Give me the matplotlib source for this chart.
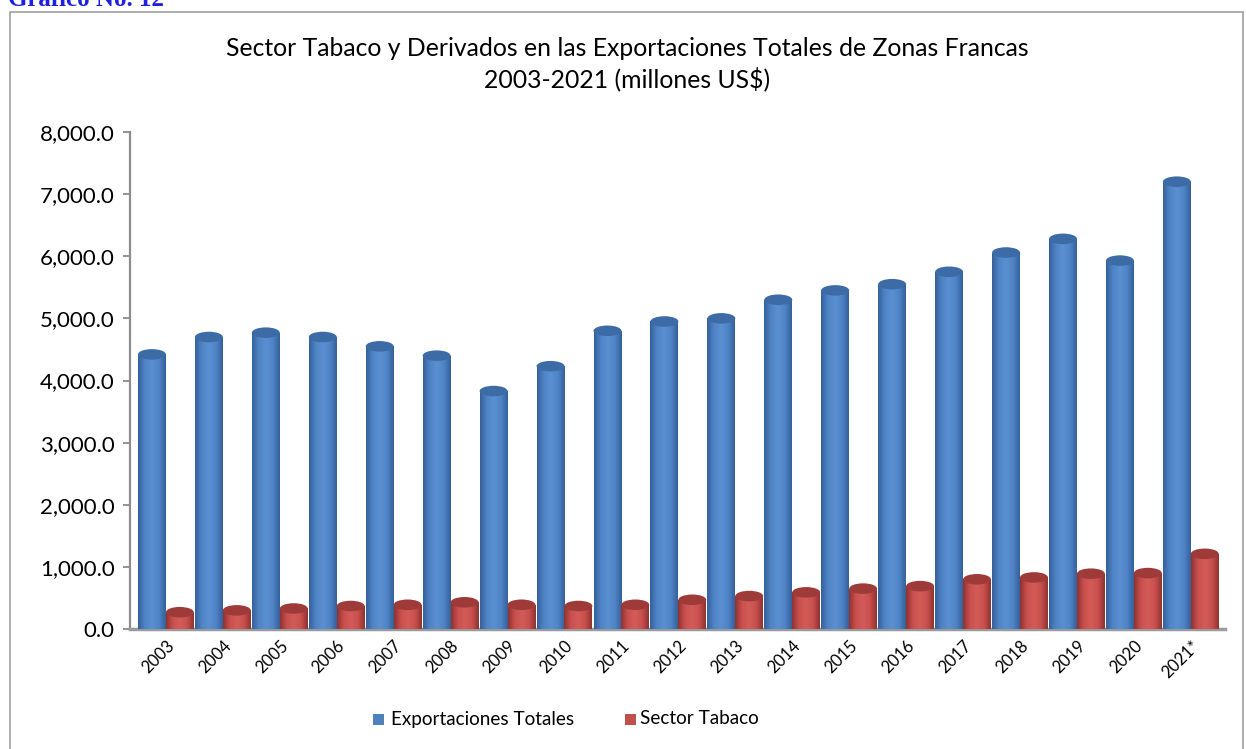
import numpy as np
import matplotlib
matplotlib.use("Agg")
import matplotlib.pyplot as plt
from matplotlib.patches import Ellipse, Rectangle
from matplotlib.colors import LinearSegmentedColormap

years = ["2003", "2004", "2005", "2006", "2007", "2008", "2009", "2010", "2011", "2012",
         "2013", "2014", "2015", "2016", "2017", "2018", "2019", "2020", "2021*"]
exportaciones_totales = [4420, 4700, 4770, 4700, 4550, 4400, 3830, 4230, 4800, 4950,
                         5000, 5300, 5450, 5550, 5750, 6060, 6280, 5930, 7200]
sector_tabaco = [270, 300, 330, 370, 390, 430, 390, 370, 390, 470,
                 530, 590, 650, 690, 800, 830, 890, 900, 1210]
series_names = ["Exportaciones Totales", "Sector Tabaco"]
title = "Sector Tabaco y Derivados en las Exportaciones Totales de Zonas Francas\n2003-2021 (millones US$)"

BLUE = "#4F81BD"
RED = "#C0504D"

plt.rcParams['font.family'] = ['Lato', 'DejaVu Sans']

fig = plt.figure(figsize=(12.46, 7.49), dpi=100)
ax = fig.add_axes([130/1246, 1-629/749, (1225-130)/1246, (629-132)/749])

x = np.arange(len(years))
w = 0.49
b1 = ax.bar(x - w/2, exportaciones_totales, width=w, color=BLUE, zorder=2)
b2 = ax.bar(x + w/2, sector_tabaco, width=w, color=RED, zorder=2)

def shade(bars, base, dark, light, cap):
    cmap = LinearSegmentedColormap.from_list("c", [dark, base, light, base, dark])
    grad = np.linspace(0, 1, 256).reshape(1, -1)
    for bar in bars:
        bx, by = bar.get_x(), bar.get_y()
        bw, bh = bar.get_width(), bar.get_height()
        im = ax.imshow(grad, extent=[bx, bx + bw, by, by + bh], aspect='auto',
                       cmap=cmap, zorder=3, interpolation='bicubic')
        im.set_clip_path(bar)
        ax.add_patch(Ellipse((bx + bw/2, by + bh), bw, 170, facecolor=cap,
                             edgecolor='none', zorder=4))

shade(b1, "#4F85C6", "#35609A", "#5A90D2", "#3D6BA6")
shade(b2, "#C9504E", "#8E3230", "#D25B58", "#9E3B39")

ax.set_xlim(-0.63, 18.6)
ax.set_ylim(0, 8000)
ax.set_yticks(np.arange(0, 8001, 1000))
ax.set_yticklabels([f"{v:,.1f}" for v in np.arange(0, 8001, 1000)], fontsize=16)
ax.set_xticks(x)
ax.set_xticklabels(years, rotation=45, ha='right', rotation_mode='anchor', fontsize=12)
ax.tick_params(axis='x', length=0, pad=6)
ax.tick_params(axis='y', length=5, width=1.2, color='#808080', direction='out', pad=6)
for s in ['top', 'right']:
    ax.spines[s].set_visible(False)
ax.spines['left'].set_color('#8C8C8C')
ax.spines['left'].set_linewidth(1.6)
ax.spines['bottom'].set_color('#9A9A9A')
ax.spines['bottom'].set_linewidth(2.5)
ax.set_facecolor('none')

fig.text(627/1246, 1-64/749, title, ha='center', va='center', fontsize=17.8,
         linespacing=1.35)

# legend
lx1, lx2, ly = 373/1246, 625/1246, 1-719/749
fig.patches.append(Rectangle((lx1, ly - 5.5/749), 11/1246, 11/749, transform=fig.transFigure,
                             facecolor=BLUE, edgecolor='none'))
fig.text(lx1 + 18/1246, ly, series_names[0], va='center', fontsize=13.6)
fig.patches.append(Rectangle((lx2, ly - 5.5/749), 11/1246, 11/749, transform=fig.transFigure,
                             facecolor=RED, edgecolor='none'))
fig.text(lx2 + 15/1246, ly, series_names[1], va='center', fontsize=13.6)

# chart border
fig.patches.append(Rectangle((10/1246, -0.01), (1243-10)/1246, 1.01 - 12/749,
                             transform=fig.transFigure, facecolor='none',
                             edgecolor='#A0A0A0', linewidth=1.2))
fig.text(8/1246, 1-6/749, "Gráfico No. 12", color='#1F1FE0', fontsize=18,
         fontweight='bold', family=['Liberation Serif'], va='baseline')

fig.savefig("out.png", dpi=100)
